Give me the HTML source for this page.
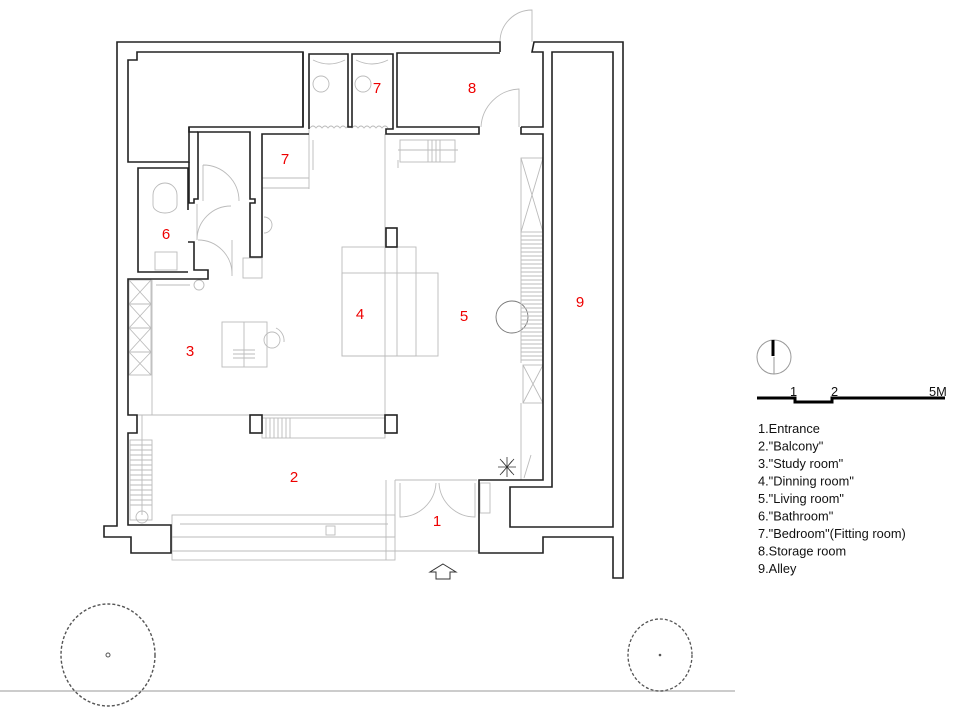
<!DOCTYPE html>
<html><head><meta charset="utf-8"><style>
html,body{margin:0;padding:0;background:#fff;}
svg{display:block;}
.w{fill:none;stroke:#222;stroke-width:1.6;stroke-linejoin:miter;}
.g{fill:none;stroke:#bbb;stroke-width:0.9;}
.r{fill:#e00;font-family:"Liberation Sans",sans-serif;font-size:15px;text-anchor:middle;}
.l{fill:#111;font-family:"Liberation Sans",sans-serif;font-size:12.8px;}
</style></head><body>
<svg width="960" height="722" viewBox="0 0 960 722" xmlns="http://www.w3.org/2000/svg">
<rect width="960" height="722" fill="#fff"/>
<g class="g">
<line x1="385" y1="134" x2="385" y2="415"/>
<line x1="128" y1="415" x2="385" y2="415"/>
<rect x="342" y="247" width="74" height="109"/>
<rect x="342" y="273" width="96" height="83"/>
<line x1="397" y1="247" x2="397" y2="356"/>
<rect x="262" y="418" width="123" height="20"/>
<path d="M266 418v20M270 418v20M274 418v20M278 418v20M282 418v20M286 418v20M290 418v20"/>
<rect x="222" y="322" width="45" height="45"/>
<line x1="244" y1="322" x2="244" y2="367"/>
<path d="M233 350h22M233 354h22M233 358h22"/>
<circle cx="272" cy="340" r="8"/>
<path d="M276 328 a14 14 0 0 1 8 14"/>
<circle cx="512" cy="317" r="16" stroke="#777"/>
<rect x="521" y="158" width="22" height="74"/>
<path d="M521 158 L543 232 M543 158 L521 232"/>
<path d="M521 232v131M543 232v131"/>
<path d="M521 236h22M521 240h22M521 244h22M521 248h22M521 252h22M521 256h22M521 260h22M521 264h22M521 268h22M521 272h22M521 276h22M521 280h22M521 284h22M521 288h22M521 292h22M521 296h22M521 300h22M521 304h22M521 308h22M521 312h22M521 316h22M521 320h22M521 324h22M521 328h22M521 332h22M521 336h22M521 340h22M521 344h22M521 348h22M521 352h22M521 356h22M521 360h22"/>
<rect x="523" y="365" width="20" height="38"/>
<path d="M523 365 L543 403 M543 365 L523 403"/>
<line x1="521" y1="403" x2="521" y2="480"/>
<line x1="531" y1="455" x2="524" y2="478"/>
<rect x="129" y="280" width="22" height="95"/>
<path d="M129 304h22M129 328h22M129 352h22M129 280l22 24M151 280l-22 24M129 304l22 24M151 304l-22 24M129 328l22 24M151 328l-22 24M129 352l22 23M151 352l-22 23"/>
<line x1="152" y1="280" x2="152" y2="415"/>
<rect x="130" y="440" width="22" height="80"/>
<path d="M130 445h22M130 450h22M130 455h22M130 460h22M130 465h22M130 470h22M130 475h22M130 480h22M130 485h22M130 490h22M130 495h22M130 500h22M130 505h22"/>
<line x1="142" y1="415" x2="142" y2="515"/>
<circle cx="142" cy="517" r="6"/>
<rect x="172" y="515" width="223" height="45"/>
<line x1="180" y1="524" x2="388" y2="524"/>
<line x1="172" y1="537" x2="395" y2="537"/>
<line x1="172" y1="551" x2="479" y2="551"/>
<rect x="326" y="526" width="9" height="9"/>
<line x1="395" y1="480" x2="395" y2="537"/>
<line x1="395" y1="480" x2="477" y2="480"/>
<path d="M400 483v34 a36 36 0 0 0 36 -34"/>
<path d="M475 483v34 a36 36 0 0 1 -36 -34"/>
<rect x="480" y="483" width="10" height="30"/>
<line x1="386" y1="480" x2="386" y2="560"/>
<rect x="400" y="140" width="55" height="22"/>
<path d="M398 150h60M428 140v22M432 140v22M436 140v22M440 140v22"/>
<line x1="398" y1="160" x2="398" y2="168"/>
<path d="M309 129v60M262 178h47M262 188h47"/>
<path d="M313 140v30"/>
<circle cx="321" cy="84" r="8"/><circle cx="363" cy="84" r="8"/>
<path d="M313 60q16 8 32 0M356 60q16 8 32 0"/>
<path d="M310 128 q3 -4 6 0 q3 -4 6 0 q3 -4 6 0 q3 -4 6 0 q3 -4 6 0 q3 -4 6 0 q3 -4 6 0 q3 -4 6 0 q3 -4 6 0 q3 -4 6 0 q3 -4 6 0 q3 -4 6 0 q3 -4 6 0"/>
<path d="M481 127 a40 40 0 0 1 38 -38 v38"/>
<path d="M500 42 a32 32 0 0 1 32 -32 v32"/>
<path d="M203 165v36 M203 165 a36 36 0 0 1 36 36"/>
<path d="M197 240 a34 34 0 0 1 34 -34 M197 240v-36"/>
<path d="M198 240 a34 34 0 0 1 34 34 M232 240v36"/>
<rect x="243" y="258" width="19" height="20"/>
<path d="M264 217 a8 8 0 0 1 0 16"/>
<path d="M153 195 a12 12 0 0 1 24 0 v10 a12 8 0 0 1 -24 0z"/>
<rect x="155" y="252" width="22" height="18"/>
<line x1="156" y1="285" x2="190" y2="285"/>
<circle cx="199" cy="285" r="5"/>
</g>
<g class="w">
<path d="M500 52V42H117V526H104V537H131V553H171V525H128V433H137V415H128V279H208V270H194V242H188"/>
<path d="M137 52H303V127H189V162H128V60H137Z"/>
<path d="M188 210V168H138V272H188"/>
<path d="M189 162V203H194V199H198V132H250V199H255V203H250V257H262V134H309"/>
<path d="M189 127V132H198"/>
<path d="M303 52V127"/>
<path d="M309 129V54H348V127H352V54H393V129H386V134H479V127H397V53H500"/>
<path d="M521 127V134H543V480H479V553H543V537H613V578H623V42H534L532 52H543V127H521"/>
<path d="M552 52H613V527H510V487H552Z"/>
<rect x="386" y="228" width="11" height="19" fill="#fff"/>
<rect x="250" y="415" width="12" height="18" fill="#fff"/>
<rect x="385" y="415" width="12" height="18" fill="#fff"/>
</g>
<g stroke="#333" stroke-width="0.8">
<path d="M500 459l14 16M514 459l-14 16M507 457v20M498 467h18M502 461l10 12M512 461l-10 12"/>
</g>
<path d="M443 564 L456 572 H450 V579 H436 V572 H430 Z" fill="#fff" stroke="#333" stroke-width="1"/>
<text class="r" x="377" y="93">7</text>
<text class="r" x="472" y="93">8</text>
<text class="r" x="285" y="164">7</text>
<text class="r" x="166" y="239">6</text>
<text class="r" x="360" y="319">4</text>
<text class="r" x="464" y="321">5</text>
<text class="r" x="190" y="356">3</text>
<text class="r" x="580" y="307">9</text>
<text class="r" x="294" y="482">2</text>
<text class="r" x="437" y="526">1</text>
<line x1="0" y1="691" x2="735" y2="691" stroke="#bbb" stroke-width="1.5"/>
<ellipse cx="108" cy="655" rx="47" ry="51" fill="none" stroke="#555" stroke-width="1.4" stroke-dasharray="3 2"/>
<circle cx="108" cy="655" r="2" fill="none" stroke="#555"/>
<ellipse cx="660" cy="655" rx="32" ry="36" fill="none" stroke="#555" stroke-width="1.3" stroke-dasharray="3 2"/>
<circle cx="660" cy="655" r="1.3" fill="#555"/>
<circle cx="774" cy="357" r="17" fill="none" stroke="#999" stroke-width="1"/>
<line x1="774" y1="357" x2="774" y2="374" stroke="#999"/>
<line x1="773" y1="340" x2="773" y2="356" stroke="#000" stroke-width="3"/>
<path d="M757 398H795V402H832V398H945" fill="none" stroke="#000" stroke-width="3"/>
<text class="l" x="790" y="396">1</text>
<text class="l" x="831" y="396">2</text>
<text class="l" x="929" y="396">5M</text>
<text class="l" x="758" y="433">1.Entrance</text>
<text class="l" x="758" y="450.5">2."Balcony"</text>
<text class="l" x="758" y="468">3."Study room"</text>
<text class="l" x="758" y="485.5">4."Dinning room"</text>
<text class="l" x="758" y="503">5."Living room"</text>
<text class="l" x="758" y="520.5">6."Bathroom"</text>
<text class="l" x="758" y="538">7."Bedroom"(Fitting room)</text>
<text class="l" x="758" y="555.5">8.Storage room</text>
<text class="l" x="758" y="573">9.Alley</text>
</svg>
</body></html>
